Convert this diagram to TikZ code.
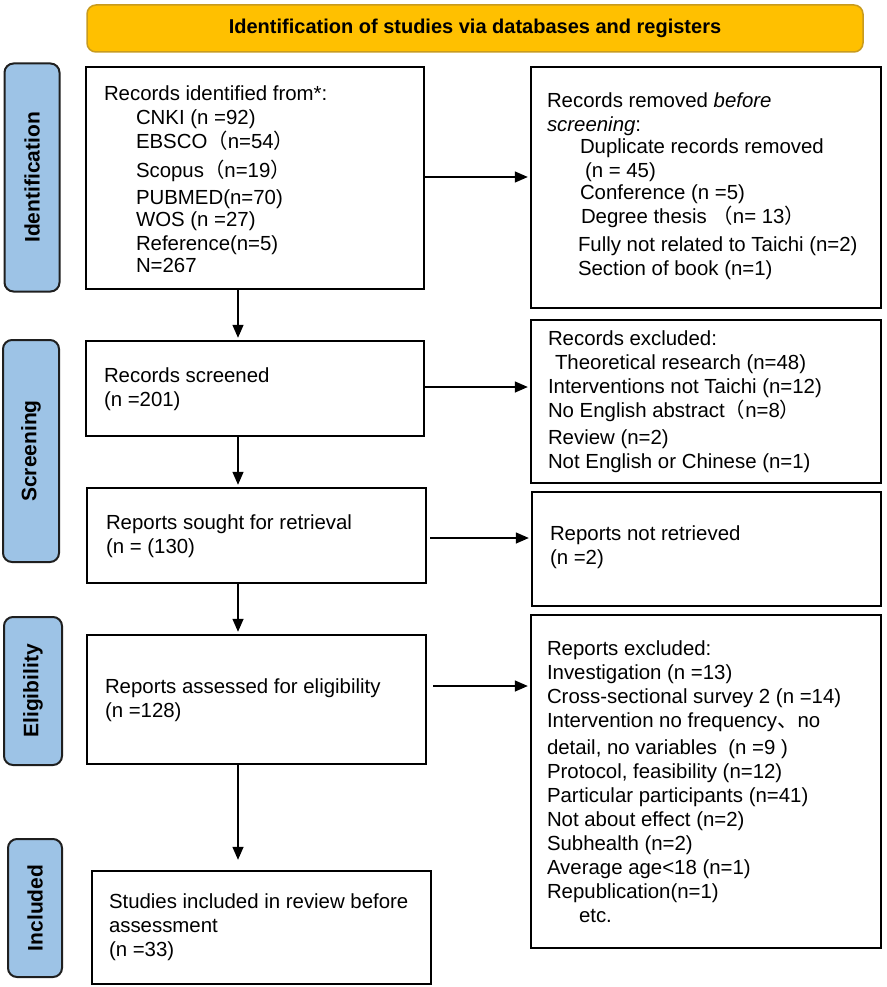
\documentclass[tikz,border=0pt]{standalone}
\usepackage{fontspec}
\setmainfont{Liberation Sans}
\newfontfamily\cjk{Noto Sans CJK SC}
\usetikzlibrary{arrows.meta}
\definecolor{hdrfill}{HTML}{FFC000}
\definecolor{hdrline}{HTML}{C89B1E}
\definecolor{phasefill}{HTML}{9DC3E6}
\definecolor{phaseline}{HTML}{1F1F1F}
\begin{document}
\begin{tikzpicture}[x=1pt,y=-1pt,
  every node/.style={font=\fontsize{20.4}{24}\selectfont},
  box/.style={draw=black, line width=2.4pt, inner sep=0pt},
  txt/.style={inner sep=0pt, align=left, anchor=west},
  phase/.style={draw=phaseline, fill=phasefill, line width=2pt, rounded corners=9pt, rotate=90, inner sep=0pt, font=\fontsize{21}{24}\selectfont\bfseries},
  header/.style={draw=hdrline, fill=hdrfill, line width=1.5pt, rounded corners=9pt, inner sep=0pt, font=\fontsize{20}{24}\selectfont\bfseries},
  arr/.style={line width=1.4pt, -{Triangle[length=13pt,width=11pt]}, shorten >=2pt}
]
\useasboundingbox (0,0) rectangle (886,987);

% header
\node[header, minimum width=776pt, minimum height=47pt] (hdr) at (475,28.5) {Identification of studies via databases and registers};

% phase labels
\node[phase, minimum width=228pt, minimum height=55pt] (pid) at (32,177.5) {Identification};
\node[phase, minimum width=222pt, minimum height=56pt] (psc) at (31,451) {Screening};
\node[phase, minimum width=148pt, minimum height=58pt] (pel) at (33,691) {Eligibility};
\node[phase, minimum width=138pt, minimum height=54pt] (pin) at (35,908) {Included};

% left column boxes
\node[box, minimum width=338pt, minimum height=222pt] (b1) at (255,178) {};
\node[txt] (b1t) at ([xshift=19pt,yshift=-1pt]b1.west) {Records identified from*:\\
\hspace*{32pt}CNKI (n =92)\\
\hspace*{32pt}EBSCO{\cjk （}n=54{\cjk ）}\\[5pt]
\hspace*{32pt}Scopus{\cjk （}n=19{\cjk ）}\\[3pt]
\hspace*{32pt}PUBMED(n=70)\\[-2pt]
\hspace*{32pt}WOS (n =27)\\
\hspace*{32pt}Reference(n=5)\\[-2pt]
\hspace*{32pt}N=267};

\node[box, minimum width=338pt, minimum height=95pt] (b2) at (255,388.5) {};
\node[txt] (b2t) at ([xshift=19pt,yshift=-1pt]b2.west) {Records screened\\(n =201)};

\node[box, minimum width=339pt, minimum height=95pt] (b3) at (256.5,535.5) {};
\node[txt] (b3t) at ([xshift=20pt,yshift=-1pt]b3.west) {Reports sought for retrieval\\(n = (130)};

\node[box, minimum width=339pt, minimum height=129pt] (b4) at (256.5,699.5) {};
\node[txt] (b4t) at ([xshift=19pt,yshift=-1pt]b4.west) {Reports assessed for eligibility\\(n =128)};

\node[box, minimum width=339pt, minimum height=113pt] (b5) at (261.5,927.5) {};
\node[txt] (b5t) at ([xshift=18pt]b5.west) {Studies included in review before\\assessment\\(n =33)};

% right column boxes
\node[box, minimum width=350pt, minimum height=241pt] (r1) at (706,187.5) {};
\node[txt] (r1t) at ([xshift=17pt,yshift=1pt]r1.west) {Records removed \textit{before}\\
\textit{screening}:\\[-2pt]
\hspace*{33pt}Duplicate records removed\\
\hspace*{38pt}(n = 45)\\[-2pt]
\hspace*{33pt}Conference (n =5)\\
\hspace*{34pt}Degree thesis {\cjk （}n= 13{\cjk ）}\\[4pt]
\hspace*{31pt}Fully not related to Taichi (n=2)\\
\hspace*{31pt}Section of book (n=1)};

\node[box, minimum width=350pt, minimum height=163pt] (r2) at (706,401.5) {};
\node[txt] (r2t) at ([xshift=18pt]r2.west) {Records excluded:\\
\hspace*{7pt}Theoretical research (n=48)\\
Interventions not Taichi (n=12)\\
No English abstract{\cjk （}n=8{\cjk ）}\\[3pt]
Review (n=2)\\
Not English or Chinese (n=1)};

\node[box, minimum width=349pt, minimum height=114pt] (r3) at (706.5,549) {};
\node[txt] (r3t) at ([xshift=19pt,yshift=2pt]r3.west) {Reports not retrieved\\(n =2)};

\node[box, minimum width=350pt, minimum height=333pt] (r4) at (706,781.5) {};
\node[txt] (r4t) at ([xshift=17pt]r4.west) {Reports excluded:\\
Investigation (n =13)\\
Cross-sectional survey 2 (n =14)\\
Intervention no frequency{\cjk 、}no\\[3pt]
detail, no variables\ \ (n =9 )\\
Protocol, feasibility (n=12)\\
Particular participants (n=41)\\
Not about effect (n=2)\\
Subhealth (n=2)\\
Average age\textless18 (n=1)\\
Republication(n=1)\\
\hspace*{32pt}etc.};

% vertical arrows
\draw[arr] (b1.south -| 238,0) -- (b2.north -| 238,0);
\draw[arr] (b2.south -| 238,0) -- (b3.north -| 238,0);
\draw[arr] (b3.south -| 238,0) -- (b4.north -| 238,0);
\draw[arr, shorten >=10pt] (b4.south -| 238,0) -- (b5.north -| 238,0);

% horizontal arrows
\draw[arr] (b1.east |- 0,177) -- (r1.west |- 0,177);
\draw[arr] (b2.east |- 0,387) -- (r2.west |- 0,387);
\draw[arr, shorten <=3pt] (b3.east |- 0,538) -- (r3.west |- 0,538);
\draw[arr, shorten <=6pt] (b4.east |- 0,686) -- (r4.west |- 0,686);
\end{tikzpicture}
\end{document}
